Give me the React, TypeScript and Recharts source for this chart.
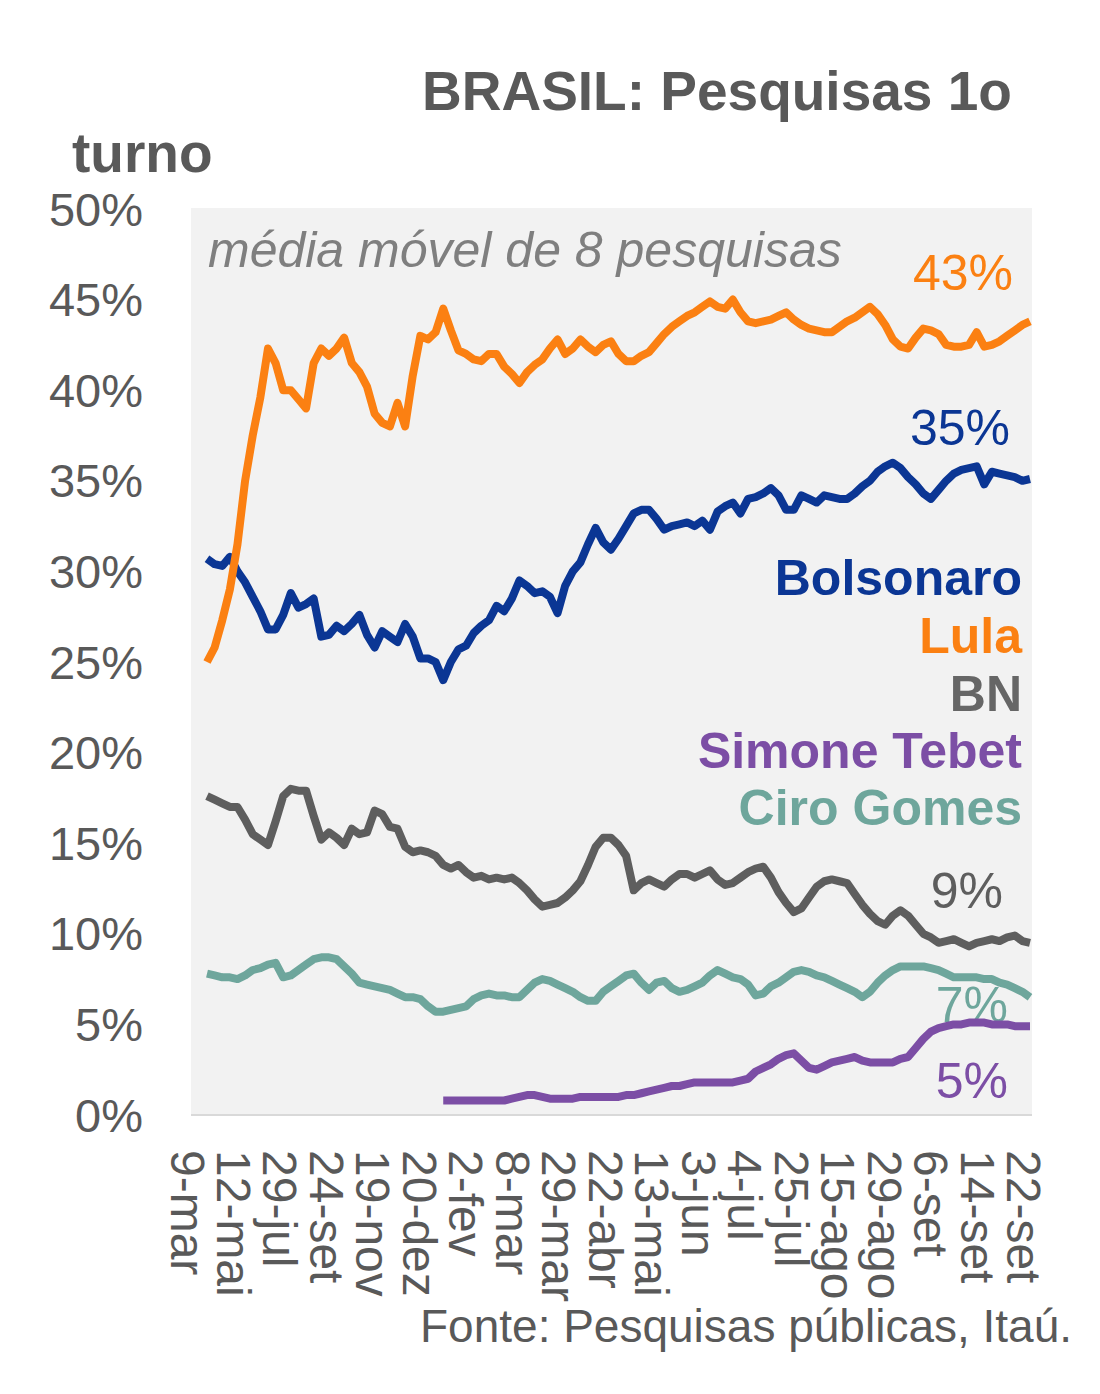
import React from 'react';
import { LineChart, Line, XAxis, YAxis } from 'recharts';

// rótulos do eixo x (um a cada 6 pesquisas)
const TICK_LABELS = [
  '9-mar', '12-mai', '29-jul', '24-set', '19-nov', '20-dez', '2-fev', '8-mar', '29-mar', '22-abr',
  '13-mai', '3-jun', '4-jul', '25-jul', '15-ago', '29-ago', '6-set', '14-set', '22-set',
];
const POINTS_PER_TICK = 6;

// média móvel de 8 pesquisas, em %
const LULA = [
  25.0, 25.8, 27.3, 29.0, 31.5, 35.0, 37.5, 39.6, 42.3, 41.5, 40.0, 40.0, 39.5, 39.0, 41.5, 42.3, 41.9, 42.3,
  42.9, 41.5, 41.0, 40.2, 38.7, 38.2, 38.0, 39.3, 38.0, 40.8, 43.0, 42.8, 43.2, 44.5, 43.3, 42.2, 42.0, 41.7,
  41.6, 42.0, 42.0, 41.3, 40.9, 40.4, 41.0, 41.4, 41.7, 42.3, 42.8, 42.0, 42.3, 42.8, 42.4, 42.1, 42.5, 42.7,
  42.0, 41.6, 41.6, 41.9, 42.1, 42.6, 43.1, 43.5, 43.8, 44.1, 44.3, 44.6, 44.9, 44.6, 44.5, 45.0, 44.3, 43.8,
  43.7, 43.8, 43.9, 44.1, 44.3, 43.9, 43.6, 43.4, 43.3, 43.2, 43.2, 43.5, 43.8, 44.0, 44.3, 44.6, 44.2, 43.6,
  42.8, 42.4, 42.3, 42.9, 43.4, 43.3, 43.1, 42.5, 42.4, 42.4, 42.5, 43.2, 42.4, 42.5, 42.7, 43.0, 43.3, 43.6,
  43.8,
];
const BOLSONARO = [
  30.7, 30.4, 30.3, 30.8, 30.0, 29.4, 28.6, 27.8, 26.8, 26.8, 27.6, 28.8, 28.0, 28.2, 28.5, 26.4, 26.5, 27.0,
  26.7, 27.1, 27.6, 26.5, 25.8, 26.7, 26.4, 26.1, 27.1, 26.4, 25.2, 25.2, 25.0, 24.0, 25.0, 25.7, 25.9, 26.6,
  27.0, 27.3, 28.1, 27.8, 28.5, 29.5, 29.2, 28.8, 28.9, 28.6, 27.7, 29.2, 30.0, 30.5, 31.5, 32.4, 31.6, 31.2,
  31.8, 32.5, 33.2, 33.4, 33.4, 32.9, 32.3, 32.5, 32.6, 32.7, 32.5, 32.8, 32.3, 33.3, 33.6, 33.8, 33.2, 34.0,
  34.1, 34.3, 34.6, 34.2, 33.4, 33.4, 34.2, 34.0, 33.8, 34.2, 34.1, 34.0, 34.0, 34.3, 34.7, 35.0, 35.5, 35.8,
  36.0, 35.7, 35.2, 34.8, 34.3, 34.0, 34.5, 35.0, 35.4, 35.6, 35.7, 35.8, 34.8, 35.5, 35.4, 35.3, 35.2, 35.0,
  35.1,
];
const BN = [
  17.6, 17.4, 17.2, 17.0, 17.0, 16.3, 15.5, 15.2, 14.9, 16.2, 17.6, 18.0, 17.9, 17.9, 16.5, 15.2, 15.6, 15.3,
  14.9, 15.8, 15.5, 15.6, 16.8, 16.6, 15.9, 15.8, 14.8, 14.5, 14.6, 14.5, 14.3, 13.8, 13.6, 13.8, 13.4, 13.1,
  13.2, 13.0, 13.1, 13.0, 13.1, 12.8, 12.4, 11.9, 11.5, 11.6, 11.7, 12.0, 12.4, 12.9, 13.8, 14.8, 15.3, 15.3,
  14.9, 14.3, 12.4, 12.8, 13.0, 12.8, 12.6, 13.0, 13.3, 13.3, 13.1, 13.3, 13.5, 13.0, 12.7, 12.8, 13.1, 13.4,
  13.6, 13.7, 13.1, 12.3, 11.7, 11.2, 11.4, 12.0, 12.6, 12.9, 13.0, 12.9, 12.8, 12.2, 11.6, 11.1, 10.7, 10.5,
  11.0, 11.3, 11.0, 10.5, 10.0, 9.8, 9.5, 9.6, 9.7, 9.5, 9.3, 9.5, 9.6, 9.7, 9.6, 9.8, 9.9, 9.6,
  9.5,
];
const CIRO = [
  7.8, 7.7, 7.6, 7.6, 7.5, 7.7, 8.0, 8.1, 8.3, 8.4, 7.6, 7.7, 8.0, 8.3, 8.6, 8.7, 8.7, 8.6,
  8.2, 7.8, 7.3, 7.2, 7.1, 7.0, 6.9, 6.7, 6.5, 6.5, 6.4, 6.0, 5.7, 5.7, 5.8, 5.9, 6.0, 6.4,
  6.6, 6.7, 6.6, 6.6, 6.5, 6.5, 6.9, 7.3, 7.5, 7.4, 7.2, 7.0, 6.8, 6.5, 6.3, 6.3, 6.8, 7.1,
  7.4, 7.7, 7.8, 7.3, 6.9, 7.3, 7.4, 7.0, 6.8, 6.9, 7.1, 7.3, 7.7, 8.0, 7.8, 7.6, 7.5, 7.2,
  6.6, 6.7, 7.1, 7.3, 7.6, 7.9, 8.0, 7.9, 7.7, 7.6, 7.4, 7.2, 7.0, 6.8, 6.5, 6.8, 7.3, 7.7,
  8.0, 8.2, 8.2, 8.2, 8.2, 8.1, 8.0, 7.8, 7.6, 7.6, 7.6, 7.6, 7.5, 7.5, 7.3, 7.2, 7.0, 6.8,
  6.5,
];
// Simone Tebet entra na série a partir da 32a observação
const SIMONE_START = 31;
const SIMONE = [
  0.8, 0.8, 0.8, 0.8, 0.8, 0.8, 0.8, 0.8, 0.8, 0.9, 1.0, 1.1, 1.1, 1.0, 0.9, 0.9, 0.9, 0.9,
  1.0, 1.0, 1.0, 1.0, 1.0, 1.0, 1.1, 1.1, 1.2, 1.3, 1.4, 1.5, 1.6, 1.6, 1.7, 1.8, 1.8, 1.8,
  1.8, 1.8, 1.8, 1.9, 2.0, 2.4, 2.6, 2.8, 3.1, 3.3, 3.4, 3.0, 2.6, 2.5, 2.7, 2.9, 3.0, 3.1,
  3.2, 3.0, 2.9, 2.9, 2.9, 2.9, 3.1, 3.2, 3.7, 4.2, 4.6, 4.8, 4.9, 5.0, 5.0, 5.1, 5.1, 5.1,
  5.0, 5.0, 5.0, 4.9, 4.9, 4.9,
];

const Y_TICKS = [0, 5, 10, 15, 20, 25, 30, 35, 40, 45, 50];

const FONT = '"Liberation Sans", Arial, sans-serif';
const GREY_TEXT = '#595959';
const C_LULA = '#FB8012';
const C_BOLSO = '#0B3694';
const C_BN = '#5E5E5E';
const C_SIMONE = '#7C4EA5';
const C_CIRO = '#6EA69C';

const data = LULA.map((v, i) => ({
  i,
  lula: v,
  bolsonaro: BOLSONARO[i],
  bn: BN[i],
  ciro: CIRO[i],
  simone: i >= SIMONE_START ? SIMONE[i - SIMONE_START] : null,
}));

const xTicks = TICK_LABELS.map((_, k) => k * POINTS_PER_TICK);

const XTick = (props: any) => {
  const { x, y, payload } = props;
  const k = Math.round(payload.value / POINTS_PER_TICK);
  // os rótulos do original ficam um pouco à esquerda dos pontos, mais no início do eixo
  const shift = 20 - k * 0.75;
  return (
    <text
      transform={`translate(${x},${y}) rotate(90)`}
      x={27}
      y={shift}
      textAnchor="start"
      dominantBaseline="central"
      fill={GREY_TEXT}
      fontSize={48}
      fontFamily={FONT}
    >
      {TICK_LABELS[k]}
    </text>
  );
};

const lineProps = {
  type: 'linear' as const,
  strokeWidth: 8,
  dot: false,
  isAnimationActive: false,
  strokeLinejoin: 'round' as const,
};

export default function App() {
  return (
    <div style={{ position: 'absolute', left: 0, top: 0, width: 1100, height: 1394, background: '#fff', fontFamily: FONT }}>
      {/* fundo e textos, desenhados por baixo das linhas */}
      <svg width={1100} height={1394} style={{ position: 'absolute', left: 0, top: 0 }}>
        <rect x={191} y={208} width={841} height={908} fill="#f2f2f2" />
        <text x={422} y={110} fontSize={55} fontWeight="bold" fill={GREY_TEXT} fontFamily={FONT}>
          BRASIL: Pesquisas 1o
        </text>
        <text x={72} y={172} fontSize={55} fontWeight="bold" fill={GREY_TEXT} fontFamily={FONT}>
          turno
        </text>
        <text x={208} y={267} fontSize={50} fontStyle="italic" fill="#7f7f7f" fontFamily={FONT}>
          média móvel de 8 pesquisas
        </text>

        <g fontFamily={FONT} fontSize={50} textAnchor="end">
          <text x={1013} y={290} fill={C_LULA}>43%</text>
          <text x={1010} y={445} fill={C_BOLSO}>35%</text>
          <text x={1003} y={908} fill={C_BN}>9%</text>
          <text x={1008} y={1022} fill={C_CIRO}>7%</text>
          <text x={1008} y={1098} fill={C_SIMONE}>5%</text>
        </g>
        <g fontFamily={FONT} fontSize={50} fontWeight="bold" textAnchor="end">
          <text x={1022} y={595} fill={C_BOLSO}>Bolsonaro</text>
          <text x={1022} y={653} fill={C_LULA}>Lula</text>
          <text x={1022} y={711} fill="#666666">BN</text>
          <text x={1022} y={768} fill={C_SIMONE}>Simone Tebet</text>
          <text x={1022} y={825} fill={C_CIRO}>Ciro Gomes</text>
        </g>
        <text x={420} y={1342} fontSize={46} fill={GREY_TEXT} fontFamily={FONT}>
          Fonte: Pesquisas públicas, Itaú.
        </text>
      </svg>

      <LineChart
        width={1100}
        height={1394}
        data={data}
        margin={{ top: 209, right: 68, bottom: 49, left: 0 }}
        style={{ position: 'absolute', left: 0, top: 0 }}
      >
        <XAxis
          dataKey="i"
          type="number"
          domain={[0, 108]}
          padding={{ left: 16, right: 2 }}
          ticks={xTicks}
          interval={0}
          tick={<XTick />}
          tickLine={false}
          axisLine={{ stroke: '#d9d9d9', strokeWidth: 2 }}
          height={230}
        />
        <YAxis
          type="number"
          domain={[0, 50]}
          ticks={Y_TICKS}
          interval={0}
          tickFormatter={(v: number) => `${v}%`}
          axisLine={false}
          tickLine={false}
          tickMargin={42}
          width={191}
          tick={{ fill: GREY_TEXT, fontSize: 47, fontFamily: FONT }}
        />
        <Line {...lineProps} dataKey="bolsonaro" stroke={C_BOLSO} />
        <Line {...lineProps} dataKey="lula" stroke={C_LULA} />
        <Line {...lineProps} dataKey="bn" stroke={C_BN} />
        <Line {...lineProps} dataKey="ciro" stroke={C_CIRO} />
        <Line {...lineProps} dataKey="simone" stroke={C_SIMONE} connectNulls={false} />
      </LineChart>
    </div>
  );
}
